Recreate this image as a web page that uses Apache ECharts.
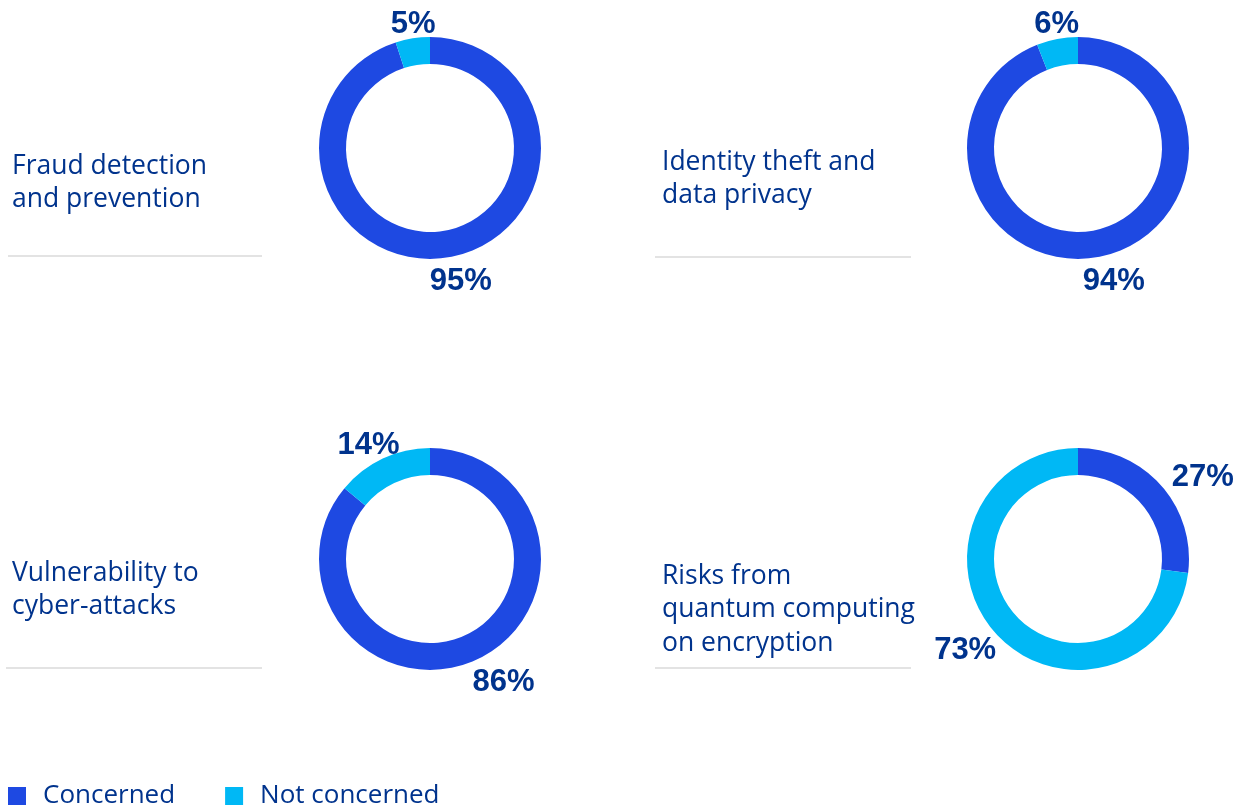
<!DOCTYPE html>
<html>
<head>
<meta charset="utf-8">
<script src="https://cdn.jsdelivr.net/npm/echarts@6/dist/echarts.min.js"></script>
<style>
  html, body { margin: 0; padding: 0; background: #ffffff; }
  #chart { width: 1244px; height: 809px; }
</style>
</head>
<body>
<div id="chart"></div>
<script>
// ---- data ----
const categories = [
  'Fraud detection\nand prevention',
  'Identity theft and\ndata privacy',
  'Vulnerability to\ncyber-attacks',
  'Risks from\nquantum computing\non encryption'
];
const seriesNames = ['Concerned', 'Not concerned'];
const concerned = [95, 94, 86, 27];
const notConcerned = [5, 6, 14, 73];

// ---- layout / style ----
const COLORS = ['#1E49E2', '#00B8F5'];
const TEXT = '#00338D';
const centers = [[430, 148], [1078, 148], [430, 559], [1078, 559]];
const R_IN = 84, R_OUT = 111, LABEL_GAP = 4;
const LABEL_KX = 1.4, LABEL_SHIFT = [6, 5];
const titlePos = [[12, 150], [662, 146], [12, 557], [662, 560]];
const rulePos = [[8, 256, 262], [655, 257, 911], [6, 668, 262], [655, 668, 911]];

const chart = echarts.init(document.getElementById('chart'), null, { renderer: 'canvas' });

function makeLabelLayout(s) {
  return function (params) {
    const vals = [concerned[s], notConcerned[s]];
    const total = vals[0] + vals[1];
    const i = params.dataIndex;
    const before = i === 0 ? 0 : vals[0];
    const theta = (before + vals[i] / 2) / total * 2 * Math.PI;
    const dx = Math.sin(theta), dy = -Math.cos(theta);
    const hw = params.labelRect.width / 2, hh = params.labelRect.height / 2;
    const r = R_OUT + LABEL_GAP;
    return {
      x: centers[s][0] + dx * r + dx * hw * LABEL_KX + LABEL_SHIFT[0],
      y: centers[s][1] + dy * r + dy * hh + LABEL_SHIFT[1],
      align: 'center',
      verticalAlign: 'middle'
    };
  };
}

const series = categories.map((c, s) => ({
  type: 'pie',
  name: c,
  center: centers[s],
  radius: [R_IN, R_OUT],
  startAngle: 90,
  clockwise: true,
  avoidLabelOverlap: false,
  silent: true,
  emphasis: { disabled: true },
  label: {
    show: true,
    position: 'outside',
    formatter: '{c}%',
    fontFamily: 'Liberation Sans',
    fontWeight: 'bold',
    fontSize: 31,
    color: TEXT
  },
  labelLine: { show: false },
  labelLayout: makeLabelLayout(s),
  data: [
    { name: seriesNames[0], value: concerned[s] },
    { name: seriesNames[1], value: notConcerned[s] }
  ]
}));

const titles = categories.map((c, s) => ({
  text: c,
  left: titlePos[s][0],
  top: titlePos[s][1],
  padding: 0,
  textStyle: {
    fontFamily: 'Open Sans',
    fontSize: 26.5,
    fontWeight: 'normal',
    color: TEXT,
    lineHeight: 33.3
  }
}));

const graphics = rulePos.map(p => ({
  type: 'line',
  shape: { x1: p[0], y1: p[1], x2: p[2], y2: p[1] },
  style: { stroke: '#e3e3e3', lineWidth: 2 },
  silent: true
}));

chart.setOption({
  animation: false,
  color: COLORS,
  title: titles,
  graphic: graphics,
  legend: {
    data: seriesNames,
    left: 8,
    top: 781,
    orient: 'horizontal',
    icon: 'rect',
    itemWidth: 18,
    itemHeight: 18,
    itemGap: 50,
    selectedMode: false,
    padding: 0,
    textStyle: {
      fontFamily: 'Open Sans',
      fontSize: 26,
      color: TEXT,
      lineHeight: 30,
      padding: [0, 0, 0, 12]
    }
  },
  series: series
});
</script>
</body>
</html>
